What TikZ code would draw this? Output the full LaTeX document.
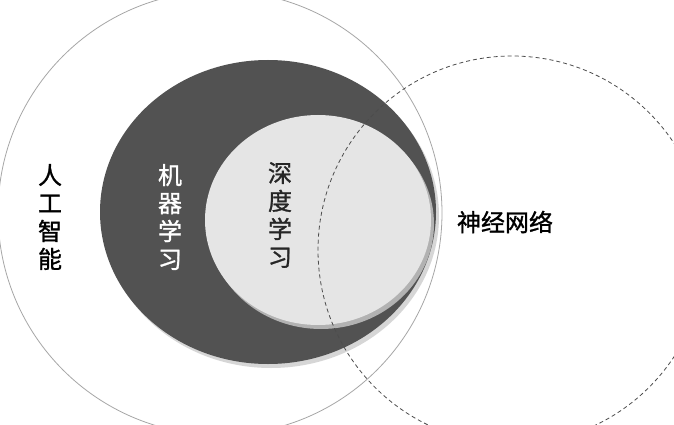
\documentclass[tikz,border=0pt]{standalone}
\usepackage{fontspec}
\newfontfamily\cjk[FakeBold=1.2]{Noto Sans CJK SC}
\begin{document}
\begin{tikzpicture}[x=1pt,y=-1pt,
  lbl/.style={font=\cjk\fontsize{24}{28}\selectfont, align=center}]
\useasboundingbox (0,0) rectangle (674,425);
\fill[white] (0,0) rectangle (674,425);
\begin{scope}
\clip (0,0) rectangle (674,425);
\draw[gray!70, line width=0.8pt, fill=white] (220,213) circle (222);
\fill[black!40, opacity=0.4] (271,216) ellipse (168 and 152);
\fill[black!68] (268,212) ellipse (168 and 152);
\fill[black!30] (321,224) ellipse (113 and 105);
\fill[black!10] (318,220) ellipse (113 and 105);
\draw[dash pattern=on 4pt off 3pt, gray!60!black, line width=0.8pt] (512,250) circle (194);
\end{scope}
\node[lbl] (ai) at (50,217) {人\\工\\智\\能};
\node[lbl, text=white] (ml) at (170,217) {机\\器\\学\\习};
\node[lbl, text=black!85] (dl) at (280,215) {深\\度\\学\\习};
\node[lbl] (nn) at (505,222) {神经网络};
\end{tikzpicture}
\end{document}
